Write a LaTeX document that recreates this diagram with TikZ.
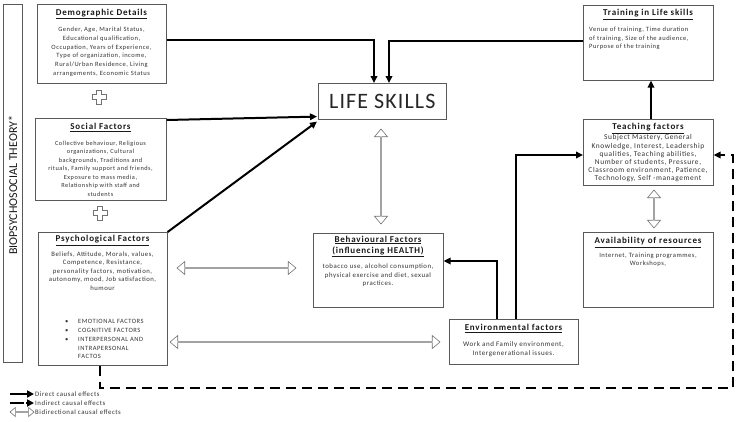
\documentclass[tikz,border=0pt]{standalone}
\usepackage{fontspec}
\setmainfont{Carlito}
\newfontfamily\bodyfont[LetterSpace=8]{Carlito}
\newfontfamily\titlefont[LetterSpace=9]{Carlito}
\newfontfamily\lifefont[LetterSpace=5]{Carlito}
\usetikzlibrary{arrows.meta,shapes.arrows}
\begin{document}
\begin{tikzpicture}[x=1pt,y=-1pt,
 box/.style={draw=black!65, line width=0.6pt, anchor=north west, inner sep=0pt},
 body/.style={text=black!80, inner sep=0pt, align=center},
 ttl/.style={font=\titlefont\fontsize{9}{11}\selectfont\bfseries, inner sep=0pt, align=center, text=black!90},
 direct/.style={line width=2pt, -{Triangle[length=7pt,width=6.5pt]}},
 indirect/.style={line width=2.2pt, dash pattern=on 10pt off 6pt, -{Triangle[length=7pt,width=6.5pt]}},
 hollow/.style={double arrow, draw=black!55, line width=0.6pt, fill=white, inner sep=0pt, minimum width=13pt, double arrow head extend=3pt, double arrow tip angle=80},
 plussign/.pic={\draw[black!55, line width=0.6pt] (-7,-2.5) -- (-2.5,-2.5) -- (-2.5,-7) -- (2.5,-7) -- (2.5,-2.5) -- (7,-2.5) -- (7,2.5) -- (2.5,2.5) -- (2.5,7) -- (-2.5,7) -- (-2.5,2.5) -- (-7,2.5) -- cycle;},
]
\useasboundingbox[fill=white] (0,0) rectangle (741,421);

% theory bar
\node[box, minimum width=19pt, minimum height=358pt] (theory) at (3,4) {};
\node[rotate=90, font=\fontsize{12}{14}\selectfont, inner sep=0pt, text=black!90] (theoryT) at ([yshift=-2pt]theory.center) {BIOPSYCHOSOCIAL THEORY*};

% demographic
\node[box, minimum width=129pt, minimum height=79pt] (demo) at (37,4) {};
\node[ttl] (demoT) at (101.5,14) {\underline{Demographic Details}};
\node[body, anchor=north, font=\bodyfont\fontsize{6.5}{8.9}\selectfont] (demoB) at (101.5,26.5) {Gender, Age, Marital Status,\\Educational qualification,\\Occupation, Years of Experience,\\Type of organization, income,\\Rural/Urban Residence, Living\\arrangements, Economic Status};
\pic at (99,97) {plussign};

% social
\node[box, minimum width=131pt, minimum height=82pt] (social) at (35,118) {};
\node[ttl] (socialT) at (100.5,127.5) {\underline{Social Factors}};
\node[body, anchor=north, font=\bodyfont\fontsize{6.3}{8.5}\selectfont] (socialB) at (100.5,140.5) {Collective behaviour, Religious\\organizations, Cultural\\backgrounds, Traditions and\\rituals, Family support and friends,\\Exposure to mass media,\\Relationship with staff and\\students};
\pic at (100,213) {plussign};

% psychological
\node[box, minimum width=129pt, minimum height=133pt] (psych) at (38,232) {};
\node[ttl] (psychT) at (102.5,240.5) {\underline{Psychological Factors}};
\node[body, anchor=north, font=\bodyfont\fontsize{6.7}{8.5}\selectfont] (psychB) at (102.5,251.5) {Beliefs, Attitude, Morals, values,\\Competence, Resistance,\\personality factors, motivation,\\autonomy, mood, Job satisfaction,\\humour};
\node[body, anchor=north west, align=left, font=\bodyfont\fontsize{6.5}{8.7}\selectfont] (psychL) at (65,319.5) {\makebox[13pt][l]{\textbullet}EMOTIONAL FACTORS\\\makebox[13pt][l]{\textbullet}COGNITIVE FACTORS\\\makebox[13pt][l]{\textbullet}INTERPERSONAL AND\\\hspace*{13pt}INTRAPERSONAL\\\hspace*{13pt}FACTOS};

% life skills
\node[box, minimum width=128pt, minimum height=36pt] (life) at (318,83) {};
\node[font=\lifefont\fontsize{22}{24}\selectfont, inner sep=0pt, text=black!85] (lifeT) at (life.center) {LIFE SKILLS};

% training
\node[box, minimum width=130pt, minimum height=75pt] (train) at (583,5) {};
\node[ttl] (trainT) at (648,14.5) {\underline{Training in Life skills}};
\node[body, anchor=north west, align=left, font=\bodyfont\fontsize{6.5}{8.5}\selectfont] (trainB) at (589,27) {Venue of training, Time duration\\of training, Size of the audience,\\Purpose of the training};

% teaching
\node[box, minimum width=130pt, minimum height=66pt] (teach) at (583,119) {};
\node[ttl] (teachT) at (648,128.5) {\underline{Teaching factors}};
\node[body, anchor=north, font=\bodyfont\fontsize{7.4}{8.2}\selectfont] (teachB) at (648,134.5) {Subject Mastery, General\\Knowledge, Interest, Leadership\\qualities, Teaching abilities,\\Number of students, Pressure,\\Classroom environment, Patience,\\Technology, Self -management};

% availability
\node[box, minimum width=130pt, minimum height=75pt] (avail) at (583,232) {};
\node[ttl] (availT) at (648,242.5) {\underline{Availability of resources}};
\node[body, anchor=north, font=\bodyfont\fontsize{6.6}{8.3}\selectfont] (availB) at (648,252.5) {Internet, Training programmes,\\Workshops,};

% behavioural
\node[box, minimum width=130pt, minimum height=74pt] (behav) at (313,233) {};
\node[ttl, font=\titlefont\fontsize{9}{11.5}\selectfont\bfseries] (behavT) at (378,246.5) {\underline{Behavioural Factors}\\\underline{(influencing HEALTH)}};
\node[body, anchor=north, font=\bodyfont\fontsize{6.8}{8.5}\selectfont] (behavB) at (378,264) {tobacco use, alcohol consumption,\\physical exercise and diet, sexual\\practices.};

% environmental
\node[box, minimum width=129pt, minimum height=45pt] (env) at (449,319) {};
\node[ttl] (envT) at (513.5,328.5) {\underline{Environmental factors}};
\node[body, anchor=north, font=\bodyfont\fontsize{7}{9}\selectfont] (envB) at (513.5,341) {Work and Family environment,\\Intergenerational issues.};

% direct connectors
\draw[direct] ([yshift=-36pt]demo.north east) -| ([xshift=56pt]life.north west);
\draw[direct] ([yshift=-36pt]train.north west) -| ([xshift=71pt]life.north west);
\draw[direct] ([yshift=-2pt]social.north east) -- ([xshift=-1pt,yshift=3pt]life.south west);
\draw[direct] (psych.north east) -- ([xshift=-1pt,yshift=-2pt]life.south west);
\draw[direct] ([xshift=48pt]env.north west) |- ([yshift=-28pt]behav.north east);
\draw[direct] ([xshift=67pt]env.north west) |- ([yshift=-36pt]teach.north west);
\draw[direct] ([xshift=68pt]teach.north west) -- ([xshift=68pt]train.south west);

% indirect
\coordinate (dc) at (733,388);
\draw[indirect] ([xshift=62pt]psych.south west) |- (dc) |- ([yshift=-36pt]teach.north east);

% bidirectional hollow arrows
\node[hollow, minimum height=119pt] (bd1) at (236.5,268) {};
\node[hollow, minimum height=270pt] (bd2) at (305,342) {};
\node[hollow, rotate=90, minimum height=95pt] (bd3) at (381,176.5) {};
\node[hollow, rotate=90, minimum height=38pt] (bd4) at (654,209) {};

% legend
\coordinate (l1a) at (10,394); \coordinate (l1b) at (34,394);
\coordinate (l2a) at (10,403); \coordinate (l2b) at (34,403);
\draw[line width=2.5pt, -{Triangle[length=7pt,width=7pt]}] (l1a) -- (l1b);
\draw[line width=2.5pt, dash pattern=on 14pt off 2pt, -{Triangle[length=7pt,width=7pt]}] (l2a) -- (l2b);
\node[hollow, minimum height=24pt, minimum width=9pt, double arrow head extend=2pt] (l3) at (22,412) {};
\node[body, anchor=west, align=left, font=\bodyfont\fontsize{6.8}{8}\selectfont] (lt1) at (35,394) {Direct causal effects};
\node[body, anchor=west, align=left, font=\bodyfont\fontsize{6.8}{8}\selectfont] (lt2) at (35,403) {Indirect causal effects};
\node[body, anchor=west, align=left, font=\bodyfont\fontsize{6.8}{8}\selectfont] (lt3) at (35,412) {Bidirectional causal effects};
\end{tikzpicture}
\end{document}
